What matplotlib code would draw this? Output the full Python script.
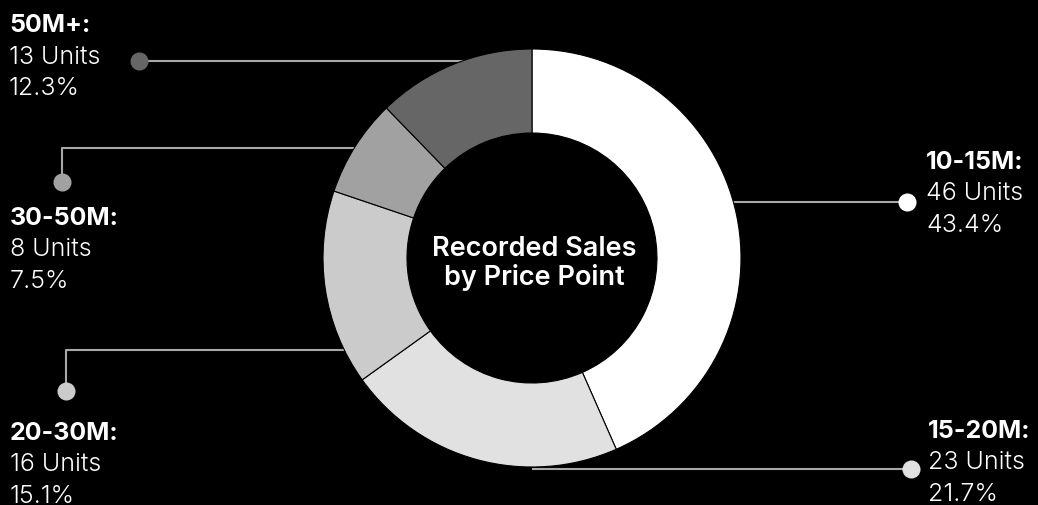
import numpy as np
import matplotlib
matplotlib.use("Agg")
import matplotlib.pyplot as plt

# Sales counts by price bracket
categories = ["10-15M", "15-20M", "20-30M", "30-50M", "50M+"]
units = [46, 23, 16, 8, 13]
percent_labels = ["43.4%", "21.7%", "15.1%", "7.5%", "12.3%"]
colors = ["#ffffff", "#e1e1e1", "#cbcbcb", "#a1a1a1", "#666666"]

W, H = 1038, 506
CX, CY = 532, 259          # donut centre (pixels from top-left)
R_OUT, RING = 209, 84       # outer radius and ring thickness

plt.rcParams["font.family"] = ["Inter", "DejaVu Sans"]

fig = plt.figure(figsize=(W / 100, H / 100), dpi=100, facecolor="black")
ax = fig.add_axes([0, 0, 1, 1])
ax.set_facecolor("black")


def py(y):
    """Convert a top-down pixel row into data y."""
    return H - y


wedges, _ = ax.pie(
    units,
    colors=colors,
    startangle=90,
    counterclock=False,
    center=(CX, py(CY)),
    radius=R_OUT,
    wedgeprops=dict(width=RING, edgecolor="black", linewidth=0.8, zorder=3),
)

# Leader layout per category: dot, optional elbow row, label anchor
layout = {
    "10-15M": dict(dot=(907, 203), elbow=None, text=(926, 169)),
    "15-20M": dict(dot=(911, 470), elbow=None, text=(928, 438)),
    "20-30M": dict(dot=(66, 392), elbow=351, text=(10, 440)),
    "30-50M": dict(dot=(62, 183), elbow=149, text=(10, 225)),
    "50M+": dict(dot=(139, 62), elbow=None, text=(9, 32)),
}

r_mid = R_OUT - RING / 2
line_col = "#a8a8a8"
FS = 18
for cat, n, pct, col in zip(categories, units, percent_labels, colors):
    spec = layout[cat]
    dx, dy = spec["dot"]
    row = spec["elbow"] if spec["elbow"] is not None else dy
    off = abs(row - CY)
    reach = np.sqrt(max(r_mid ** 2 - off ** 2, 0.0))
    sx = CX + reach if dx > CX else CX - reach
    xs = [dx, dx, sx] if spec["elbow"] is not None else [dx, sx]
    ys = [dy, row, row] if spec["elbow"] is not None else [dy, row]
    ax.plot(xs, [py(v) for v in ys], color=line_col, lw=1.5, zorder=1,
            solid_capstyle="butt")
    ax.plot([dx], [py(dy)], "o", ms=13, color=col, mec="none", zorder=4)

    tx, ty = spec["text"]
    step = 31.5
    ax.text(tx, py(ty), f"{cat}:", color="white", fontsize=FS,
            fontweight="bold", ha="left", va="baseline")
    ax.text(tx, py(ty + step), f"{n} Units", color="white", fontsize=FS,
            fontweight=300, ha="left", va="baseline")
    ax.text(tx, py(ty + 2 * step), pct, color="white", fontsize=FS,
            fontweight=300, ha="left", va="baseline")

ax.text(CX + 2, py(256), "Recorded Sales", color="white", fontsize=19.5,
        fontweight="semibold", ha="center", va="baseline")
ax.text(CX + 2, py(285), "by Price Point", color="white", fontsize=19.5,
        fontweight="semibold", ha="center", va="baseline")

ax.set_xlim(0, W)
ax.set_ylim(0, H)
ax.set_aspect("equal")
ax.axis("off")

fig.savefig("out.png", dpi=100, facecolor="black")
